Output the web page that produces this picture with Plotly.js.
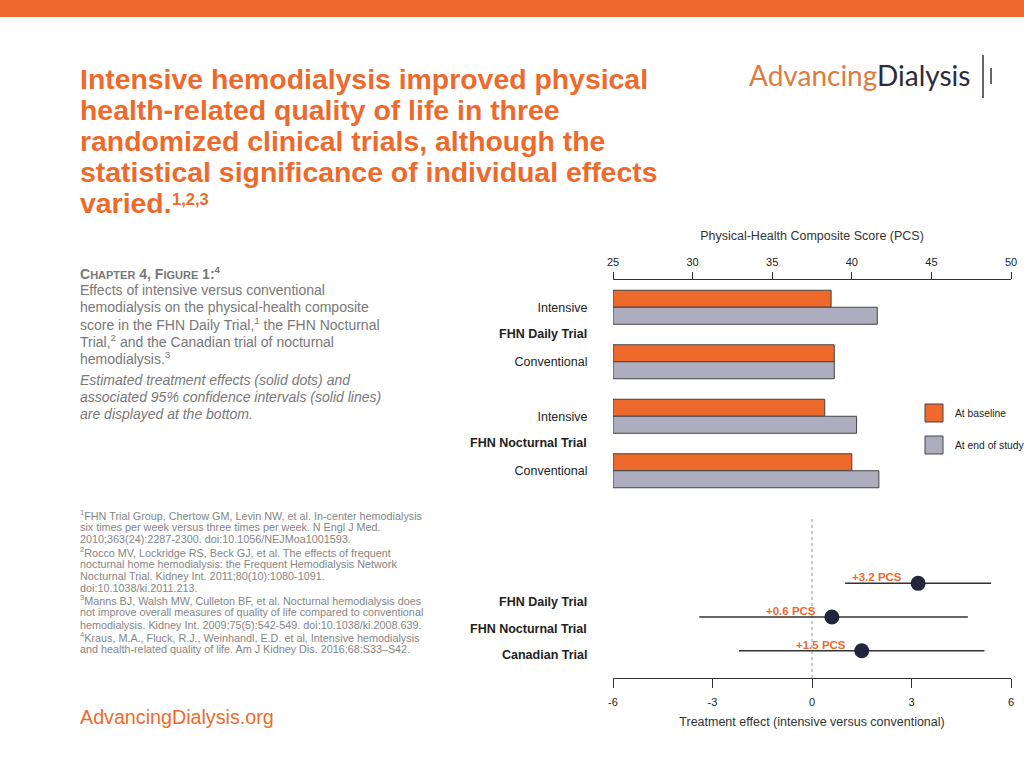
<!DOCTYPE html>
<html>
<head>
<meta charset="utf-8">
<script src="https://cdn.plot.ly/plotly-3.0.1.min.js"></script>
<style>html,body{margin:0;padding:0;background:#fff;}#chart{width:1024px;height:768px;}</style>
</head>
<body>
<div id="chart"></div>
<script>
// ---------- data ----------
const barIds = ['daily-int', 'daily-conv', 'noct-int', 'noct-conv'];
const barLabels = ['Intensive', 'Conventional', 'Intensive', 'Conventional'];
const barTrials = ['FHN Daily Trial', 'FHN Nocturnal Trial'];
const baselinePCS = [38.7, 38.9, 38.3, 40.0];
const endPCS = [41.6, 38.9, 40.3, 41.7];
const pcsTicks = [25, 30, 35, 40, 45, 50];
const legendNames = ['At baseline', 'At end of study'];

const forestTrials = ['FHN Daily Trial', 'FHN Nocturnal Trial', 'Canadian Trial'];
const effect = [3.2, 0.6, 1.5];
const ciLow = [1.0, -3.4, -2.2];
const ciHigh = [5.4, 4.7, 5.2];
const effectTicks = [-6, -3, 0, 3, 6];
const effectTickText = ['-6', '-3', '0', '3', '6'];

const titleLines = [
  'Intensive hemodialysis improved physical',
  'health-related quality of life in three',
  'randomized clinical trials, although the',
  'statistical significance of individual effects',
  'varied.'
];
const titleSup = '1,2,3';
const captionLines = [
  '<b>C<span style="font-size:11px">HAPTER</span> 4, F<span style="font-size:11px">IGURE</span> 1:<sup>4</sup></b>',
  'Effects of intensive versus conventional',
  'hemodialysis on the physical-health composite',
  'score in the FHN Daily Trial,<sup>1</sup> the FHN Nocturnal',
  'Trial,<sup>2</sup> and the Canadian trial of nocturnal',
  'hemodialysis.<sup>3</sup>'
];
const noteLines = [
  'Estimated treatment effects (solid dots) and',
  'associated 95% confidence intervals (solid lines)',
  'are displayed at the bottom.'
];
const refLines = [
  '<sup>1</sup>FHN Trial Group, Chertow GM, Levin NW, et al. In-center hemodialysis',
  'six times per week versus three times per week. N Engl J Med.',
  '2010;363(24):2287-2300. doi:10.1056/NEJMoa1001593.',
  '<sup>2</sup>Rocco MV, Lockridge RS, Beck GJ, et al. The effects of frequent',
  'nocturnal home hemodialysis: the Frequent Hemodialysis Network',
  'Nocturnal Trial. Kidney Int. 2011;80(10):1080-1091.',
  'doi:10.1038/ki.2011.213.',
  '<sup>3</sup>Manns BJ, Walsh MW, Culleton BF, et al. Nocturnal hemodialysis does',
  'not improve overall measures of quality of life compared to conventional',
  'hemodialysis. Kidney Int. 2009;75(5):542-549. doi:10.1038/ki.2008.639.',
  '<sup>4</sup>Kraus, M.A., Fluck, R.J., Weinhandl, E.D. et al, Intensive hemodialysis',
  'and health-related quality of life. Am J Kidney Dis. 2016;68:S33\u2013S42.'
];

// ---------- style ----------
const W = 1024, H = 768;
const X = px => px / W;
const Y = py => 1 - py / H;
const ORANGE = '#ED6A2C';
const GREY = '#ADADBF';
const NAVY = '#24243C';
const FONT = 'Liberation Sans, Arial, Helvetica, sans-serif';
const AXIS_MIN = pcsTicks[0];

const traces = [
  {
    type: 'bar', orientation: 'h', name: legendNames[0],
    y: barIds, x: baselinePCS.map(v => v - AXIS_MIN), base: AXIS_MIN,
    marker: {color: ORANGE, line: {color: '#444', width: 1}},
    xaxis: 'x', yaxis: 'y', showlegend: false
  },
  {
    type: 'bar', orientation: 'h', name: legendNames[1],
    y: barIds, x: endPCS.map(v => v - AXIS_MIN), base: AXIS_MIN,
    marker: {color: GREY, line: {color: '#444', width: 1}},
    xaxis: 'x', yaxis: 'y', showlegend: false
  },
  {
    type: 'scatter', mode: 'markers',
    x: effect, y: forestTrials,
    error_x: {
      type: 'data', symmetric: false,
      array: effect.map((v, i) => ciHigh[i] - v),
      arrayminus: effect.map((v, i) => v - ciLow[i]),
      width: 0, thickness: 1.5, color: '#333'
    },
    marker: {size: 15, color: NAVY},
    xaxis: 'x2', yaxis: 'y2', showlegend: false
  }
];

const annotations = [];
const shapes = [];

// top band
shapes.push({type: 'rect', xref: 'paper', yref: 'paper', x0: 0, x1: 1, y0: Y(17), y1: 1,
  fillcolor: ORANGE, line: {width: 0}, layer: 'below'});

// title lines
titleLines.forEach((t, i) => annotations.push({
  xref: 'paper', yref: 'paper', x: X(78), y: Y(79 + i * 31), xanchor: 'left', yanchor: 'middle',
  text: '<b>' + t + '</b>', showarrow: false, font: {family: FONT, size: 28.4, color: ORANGE}
}));
annotations.push({
  xref: 'paper', yref: 'paper', x: X(170), y: Y(199), xanchor: 'left', yanchor: 'middle',
  text: '<b>' + titleSup + '</b>', showarrow: false, font: {family: FONT, size: 16.5, color: ORANGE}
});
// caption
captionLines.forEach((t, i) => annotations.push({
  xref: 'paper', yref: 'paper', x: X(78), y: Y(273 + i * 17), xanchor: 'left', yanchor: 'middle',
  text: t, showarrow: false, font: {family: FONT, size: 14, color: '#787878'}
}));
noteLines.forEach((t, i) => annotations.push({
  xref: 'paper', yref: 'paper', x: X(78), y: Y(380 + i * 17), xanchor: 'left', yanchor: 'middle',
  text: '<i>' + t + '</i>', showarrow: false, font: {family: FONT, size: 14, color: '#787878'}
}));
refLines.forEach((t, i) => annotations.push({
  xref: 'paper', yref: 'paper', x: X(78), y: Y(515 + i * 12.18), xanchor: 'left', yanchor: 'middle',
  text: t, showarrow: false, font: {family: FONT, size: 10.8, color: '#858585'}
}));
annotations.push({
  xref: 'paper', yref: 'paper', x: X(78), y: Y(717), xanchor: 'left', yanchor: 'middle',
  text: 'AdvancingDialysis.org', showarrow: false, font: {family: FONT, size: 19.7, color: ORANGE}
});
// logo
annotations.push({
  xref: 'paper', yref: 'paper', x: X(747), y: Y(75), xanchor: 'left', yanchor: 'middle',
  text: '<span style="color:#E07B3F">Advancing</span><span style="color:#2B2B3D">Dialysis</span>',
  showarrow: false, font: {family: 'Lato, sans-serif', size: 28, color: '#2B2B3D'}
});
shapes.push({type: 'line', xref: 'paper', yref: 'paper', x0: X(983), x1: X(983), y0: Y(55), y1: Y(98),
  line: {color: '#333', width: 1.5}});
shapes.push({type: 'line', xref: 'paper', yref: 'paper', x0: X(991), x1: X(991), y0: Y(68), y1: Y(84),
  line: {color: '#333', width: 1.5}});

// bar-chart trial labels
barTrials.forEach((t, i) => annotations.push({
  xref: 'paper', yref: 'y', x: X(589), y: i * 2 + 0.5, xanchor: 'right', yanchor: 'middle',
  text: '<b>' + t + '</b>', showarrow: false, font: {family: FONT, size: 12.5, color: '#222'}
}));
// legend (manual)
[ORANGE, GREY].forEach((c, i) => {
  const cy = 413 + i * 32;
  shapes.push({type: 'rect', xref: 'paper', yref: 'paper', x0: X(925), x1: X(943), y0: Y(cy + 9), y1: Y(cy - 9),
    fillcolor: c, line: {color: '#444', width: 1}});
  annotations.push({xref: 'paper', yref: 'paper', x: X(953), y: Y(cy), xanchor: 'left', yanchor: 'middle',
    text: legendNames[i], showarrow: false, font: {family: FONT, size: 10.3, color: '#222'}});
});

// forest labels
forestTrials.forEach((t, i) => annotations.push({
  xref: 'paper', yref: 'paper', x: X(589), y: Y(602 + i * 26.5), xanchor: 'right', yanchor: 'middle',
  text: '<b>' + t + '</b>', showarrow: false, font: {family: FONT, size: 12.5, color: '#222'}
}));
effect.forEach((v, i) => annotations.push({
  xref: 'x2', yref: 'y2', x: v, y: forestTrials[i], xanchor: 'right', yanchor: 'middle',
  xshift: -14, yshift: 6, text: '<b>+' + v.toFixed(1) + ' PCS</b>', showarrow: false,
  font: {family: FONT, size: 11.5, color: ORANGE}
}));
// zero reference line
shapes.push({type: 'line', xref: 'x2', yref: 'y2 domain', x0: 0, x1: 0, y0: 0, y1: 1,
  line: {color: '#999', width: 1, dash: 'dot'}, layer: 'below'});

const layout = {
  width: W, height: H,
  margin: {l: 0, r: 0, t: 0, b: 0},
  paper_bgcolor: '#fff', plot_bgcolor: 'rgba(0,0,0,0)',
  font: {family: FONT, color: '#222'},
  barmode: 'group', bargap: 0.376, bargroupgap: 0,
  showlegend: false,
  xaxis: {
    domain: [X(613), X(1011)], anchor: 'y', side: 'top',
    range: [pcsTicks[0], pcsTicks[pcsTicks.length - 1]],
    tickmode: 'array', tickvals: pcsTicks,
    ticks: 'outside', ticklen: 7, tickcolor: '#333', tickwidth: 1, ticklabelstandoff: 2,
    showline: true, linecolor: '#333', linewidth: 1,
    showgrid: false, zeroline: false,
    tickfont: {size: 11, color: '#222'},
    title: {text: 'Physical-Health Composite Score (PCS)', font: {size: 12.5, color: '#333'}, standoff: 12}
  },
  yaxis: {
    domain: [Y(498), Y(280)], anchor: 'x',
    type: 'category', categoryarray: barIds, autorange: 'reversed',
    tickmode: 'array', tickvals: barIds, ticktext: barLabels,
    ticks: 'outside', ticklen: 22, tickcolor: 'rgba(0,0,0,0)',
    showline: false, showgrid: false, zeroline: false,
    tickfont: {size: 12.5, color: '#222'}
  },
  xaxis2: {
    domain: [X(613), X(1011)], anchor: 'y2', side: 'bottom',
    range: [effectTicks[0], effectTicks[effectTicks.length - 1]],
    tickmode: 'array', tickvals: effectTicks, ticktext: effectTickText,
    ticks: 'outside', ticklen: 9, tickcolor: '#333', tickwidth: 1, ticklabelstandoff: 5,
    showline: true, linecolor: '#333', linewidth: 1,
    showgrid: false, zeroline: false,
    tickfont: {size: 11, color: '#222'},
    title: {text: 'Treatment effect (intensive versus conventional)', font: {size: 12.5, color: '#333'}, standoff: 10}
  },
  yaxis2: {
    domain: [Y(678), Y(517)], anchor: 'x2',
    type: 'category', categoryarray: forestTrials,
    range: [2.81, -1.97], autorange: false,
    showticklabels: false, ticks: '', showline: false, showgrid: false, zeroline: false
  },
  annotations: annotations,
  shapes: shapes
};

Plotly.newPlot('chart', traces, layout, {staticPlot: true, displayModeBar: false});
</script>
</body>
</html>
